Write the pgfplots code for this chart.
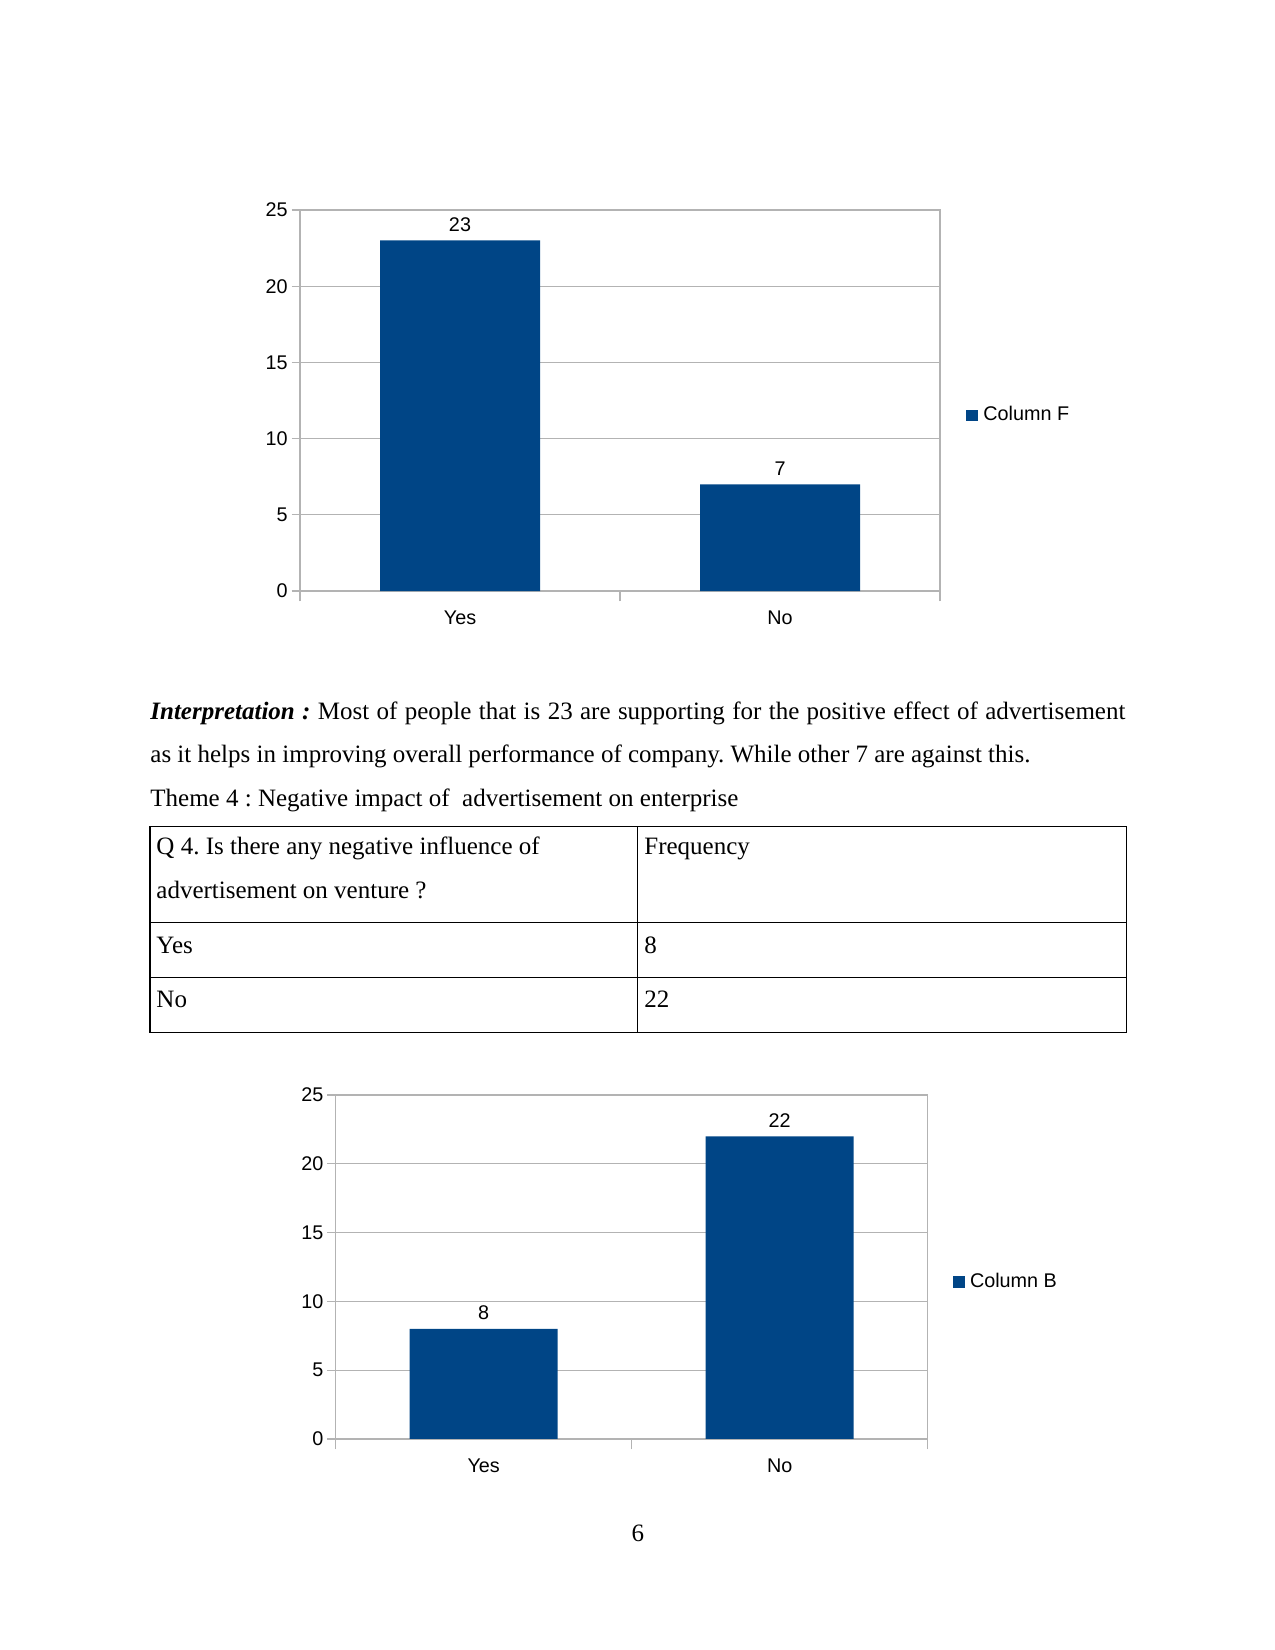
\documentclass[border=0pt]{standalone}
\usepackage{fontspec}
\setmainfont{Liberation Serif}
\newfontfamily\chartfont{Liberation Sans}
\usepackage{pgfplots}
\pgfplotsset{compat=1.18}
\definecolor{barblue}{HTML}{004586}
\definecolor{gridgray}{HTML}{B3B3B3}
\pgfplotsset{
  /pgf/number format/assume math mode=true,
  mychart/.style={
    scale only axis,
    ybar, bar width=0.5,
    enlarge x limits=false, enlarge y limits=false,
    xmin=-0.5, xmax=1.5, ymin=0, ymax=25,
    ytick={0,5,10,15,20,25},
    xtick={0,1}, xticklabels={Yes,No},
    major x tick style={draw=none},
    extra x ticks={-0.5,0.5,1.5}, extra x tick labels={},
    extra x tick style={grid=none, major tick length=5pt, tick align=outside, major x tick style={draw=gridgray, line width=0.6pt}},
    ymajorgrids, grid style={gridgray, line width=0.6pt},
    axis line style={gridgray, line width=0.6pt},
    ytick style={draw=gridgray, line width=0.6pt},
    tick align=outside, major tick length=4pt, tick pos=left,
    tick label style={font=\chartfont\fontsize{9.5}{11.5}\selectfont, text=black},
    xticklabel style={yshift=-2pt},
    yticklabel style={xshift=1.6pt},
    nodes near coords,
    every node near coord/.append style={font=\chartfont\fontsize{9.5}{11.5}\selectfont, text=black, yshift=0.7pt},
    legend style={draw=none, fill=none, font=\chartfont\fontsize{9.5}{11.5}\selectfont, anchor=west, inner sep=0pt, nodes={inner sep=1.5pt}, /tikz/every odd column/.append style={column sep=1pt}},
    legend cell align=left,
  }
}
\begin{document}
\frenchspacing
\begin{tikzpicture}
\useasboundingbox (0,0) rectangle (612pt,792pt);
\begin{axis}[mychart, at={(144pt,508.3pt)}, anchor=south west, width=307.2pt, height=182.9pt,
  legend style={at={(1,0.461)}, xshift=12.5pt}]
\addplot[fill=barblue, draw=none, legend image code/.code={\fill[barblue] (0pt,-2.8pt) rectangle (5.6pt,2.8pt);}] coordinates {(0,23) (1,7)};
\addlegendentry{Column F}
\end{axis}
\begin{axis}[mychart, at={(161.1pt,101.3pt)}, anchor=south west, width=284.2pt, height=165.1pt,
  legend style={at={(1,0.456)}, xshift=12pt}]
\addplot[fill=barblue, draw=none, legend image code/.code={\fill[barblue] (0pt,-2.8pt) rectangle (5.6pt,2.8pt);}] coordinates {(0,8) (1,22)};
\addlegendentry{Column B}
\end{axis}
\begin{scope}[every node/.style={inner sep=0pt, anchor=base west, font=\fontsize{12}{14}\selectfont}]
\node at (72pt,446.4pt) {\makebox[468pt][s]{\textbf{\textit{Interpretation :}} Most of people that is 23 are supporting for the positive effect of advertisement}};
\node at (72pt,426.0pt) {as it helps in improving overall performance of company. While other 7 are against this.};
\node at (72pt,405.1pt) {Theme 4 : Negative impact of\ \ advertisement on enterprise};
\node at (74.9pt,381.6pt) {Q 4. Is there any negative influence of};
\node at (74.9pt,360.9pt) {advertisement on venture ?};
\node at (309.1pt,381.6pt) {Frequency};
\node at (74.9pt,334.5pt) {Yes};
\node at (309.1pt,334.5pt) {8};
\node at (74.9pt,308.4pt) {No};
\node at (309.1pt,308.4pt) {22};
\node[anchor=base] at (306.2pt,52.3pt) {6};
\end{scope}
\draw[line width=0.5pt] (72pt,395.5pt) rectangle (540.5pt,296.2pt);
\draw[line width=0.5pt] (72pt,349.0pt) -- (540.5pt,349.0pt);
\draw[line width=0.5pt] (72pt,322.6pt) -- (540.5pt,322.6pt);
\draw[line width=0.5pt] (305.8pt,395.5pt) -- (305.8pt,296.2pt);
\end{tikzpicture}
\end{document}
